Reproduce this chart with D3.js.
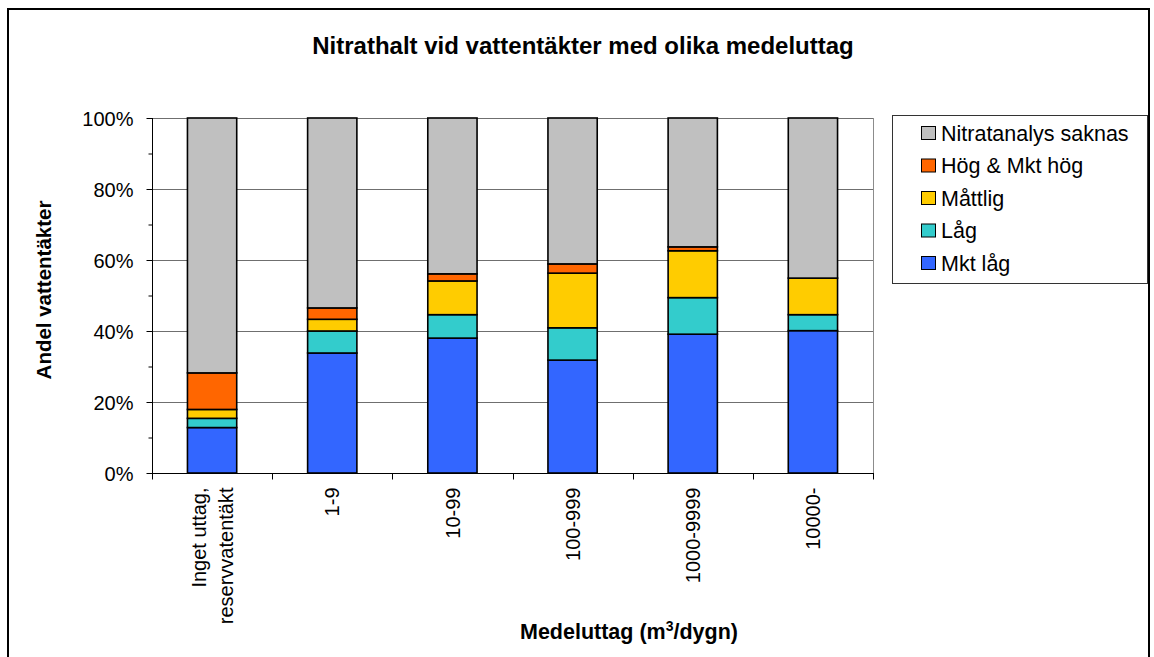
<!DOCTYPE html>
<html>
<head>
<meta charset="utf-8">
<script src="https://cdn.jsdelivr.net/npm/d3@7"></script>
<style>
  html, body { margin: 0; padding: 0; background: #fff; }
  svg { display: block; font-family: "Liberation Sans", Arial, sans-serif; }
  .grid line { stroke: #6f6f6f; stroke-width: 1; }
  .axis path, .axis line { stroke: #000; }
  .axis text { font-size: 20px; fill: #000; }
</style>
</head>
<body>
<svg id="chart" width="1154" height="657"></svg>
<script>
// categories (Medeluttag, m3/dygn)
const categories = ['Inget uttag,|reservvatentäkt', '1-9', '10-99', '100-999', '1000-9999', '10000-'];

// share of water sources per nitrate class, in %
const mktLag   = [12.8, 33.8, 38.0, 31.8, 39.1, 40.1];
const lag      = [ 2.6,  6.2,  6.6,  9.1, 10.3,  4.5];
const mattlig  = [ 2.5,  3.3,  9.5, 15.4, 13.2, 10.3];
const hog      = [10.3,  3.2,  2.0,  2.6,  1.1,  0.0];
const saknas   = categories.map((c, i) => 100 - mktLag[i] - lag[i] - mattlig[i] - hog[i]);

const seriesNames = ['Mkt låg', 'Låg', 'Måttlig', 'Hög & Mkt hög', 'Nitratanalys saknas'];
const seriesVals  = [mktLag, lag, mattlig, hog, saknas];
const colors      = ['#3366ff', '#33cccc', '#ffcc00', '#ff6600', '#c0c0c0'];
const yTicks      = [0, 20, 40, 60, 80, 100];

const svg = d3.select('#chart');

// outer frame
svg.append('rect')
  .attr('x', 8).attr('y', 9)
  .attr('width', 1141).attr('height', 660)
  .attr('fill', '#fff').attr('stroke', '#000').attr('stroke-width', 2);

const plot = { left: 152, right: 873, top: 118, bottom: 473 };

const x = d3.scaleBand()
  .domain(categories)
  .range([plot.left, plot.right])
  .paddingInner(0.59)
  .paddingOuter(0.295);

const y = d3.scaleLinear().domain([0, 100]).range([plot.bottom, plot.top]);

// gridlines
svg.append('g').attr('class', 'grid')
  .selectAll('line')
  .data(yTicks.filter(d => d > 0))
  .join('line')
  .attr('x1', plot.left).attr('x2', plot.right)
  .attr('y1', d => Math.round(y(d)) + 0.5).attr('y2', d => Math.round(y(d)) + 0.5);

// right border of plot area
svg.append('line')
  .attr('x1', plot.right + 0.5).attr('x2', plot.right + 0.5)
  .attr('y1', plot.top).attr('y2', plot.bottom)
  .attr('stroke', '#8c8c8c');

// stacked bars
const table = categories.map((c, i) => {
  const row = { cat: c };
  seriesNames.forEach((s, k) => { row[s] = seriesVals[k][i]; });
  return row;
});
const stacked = d3.stack().keys(seriesNames)(table);

svg.append('g')
  .selectAll('g')
  .data(stacked)
  .join('g')
  .attr('fill', (d, i) => colors[i])
  .selectAll('rect')
  .data(d => d.filter(p => p[1] - p[0] > 0))
  .join('rect')
  .attr('x', d => x(d.data.cat))
  .attr('y', d => y(d[1]))
  .attr('width', x.bandwidth())
  .attr('height', d => y(d[0]) - y(d[1]))
  .attr('stroke', '#000')
  .attr('stroke-width', 1.6);

// y axis with minor ticks
const yAxisG = svg.append('g').attr('class', 'axis')
  .attr('transform', `translate(${plot.left + 0.5},0)`);
yAxisG.call(d3.axisLeft(y).tickValues(d3.range(0, 101, 10)).tickSize(4).tickFormat(''));
yAxisG.call(g => g.select('.domain').remove());
const yMajor = svg.append('g').attr('class', 'axis')
  .attr('transform', `translate(${plot.left + 0.5},0)`)
  .call(d3.axisLeft(y).tickValues(yTicks).tickSize(6).tickPadding(13).tickFormat(d => d + '%'));
yMajor.select('.domain').attr('d', `M0,${plot.top}V${plot.bottom}`);
yMajor.selectAll('text').attr('dy', '0.36em');

// x axis
const xAxisG = svg.append('g').attr('class', 'axis')
  .attr('transform', `translate(0,${plot.bottom + 0.5})`);
xAxisG.append('line')
  .attr('x1', plot.left).attr('x2', plot.right + 1)
  .attr('stroke', '#000');
const step = x.step();
xAxisG.selectAll('line.tk')
  .data(d3.range(categories.length + 1))
  .join('line')
  .attr('class', 'tk')
  .attr('x1', i => Math.round(plot.left + i * step) + 0.5)
  .attr('x2', i => Math.round(plot.left + i * step) + 0.5)
  .attr('y1', 0).attr('y2', 6)
  .attr('stroke', '#000');

const xLab = xAxisG.selectAll('text.lbl')
  .data(categories)
  .join('text')
  .attr('class', 'lbl')
  .attr('font-size', 21)
  .attr('transform', d => `translate(${x(d) + x.bandwidth() / 2},14) rotate(-90)`)
  .attr('text-anchor', 'end');
xLab.each(function(d) {
  const lines = d.split('|');
  const t = d3.select(this);
  lines.forEach((ln, i) => {
    t.append('tspan')
      .attr('x', 0)
      .attr('dy', i === 0 ? (0.36 - (lines.length - 1) * 0.68) + 'em' : '1.36em')
      .text(ln);
  });
});

// titles
svg.append('text')
  .attr('x', 583).attr('y', 54)
  .attr('text-anchor', 'middle')
  .attr('font-size', 24).attr('font-weight', 'bold')
  .text('Nitrathalt vid vattentäkter med olika medeluttag');

svg.append('text')
  .attr('transform', 'translate(51,290) rotate(-90)')
  .attr('text-anchor', 'middle')
  .attr('font-size', 20.5).attr('font-weight', 'bold')
  .text('Andel vattentäkter');

const xt = svg.append('text')
  .attr('x', 629).attr('y', 639)
  .attr('text-anchor', 'middle')
  .attr('font-size', 21.5).attr('font-weight', 'bold');
xt.append('tspan').text('Medeluttag (m');
xt.append('tspan').attr('dy', -8).attr('font-size', 14).text('3');
xt.append('tspan').attr('dy', 8).text('/dygn)');

// legend
const legend = svg.append('g');
legend.append('rect')
  .attr('x', 892.5).attr('y', 115.5)
  .attr('width', 255).attr('height', 168)
  .attr('fill', '#fff').attr('stroke', '#333');

const legOrder = d3.range(seriesNames.length).reverse();
const legItems = legend.selectAll('g.item')
  .data(legOrder)
  .join('g')
  .attr('class', 'item')
  .attr('transform', (k, i) => `translate(921,${133 + i * 32.5})`);
legItems.append('rect')
  .attr('x', 0.5).attr('y', -6.5)
  .attr('width', 14).attr('height', 13)
  .attr('fill', k => colors[k])
  .attr('stroke', '#000');
legItems.append('text')
  .attr('x', 20).attr('dy', '0.36em')
  .attr('font-size', 21.5)
  .text(k => seriesNames[k]);
</script>
</body>
</html>
